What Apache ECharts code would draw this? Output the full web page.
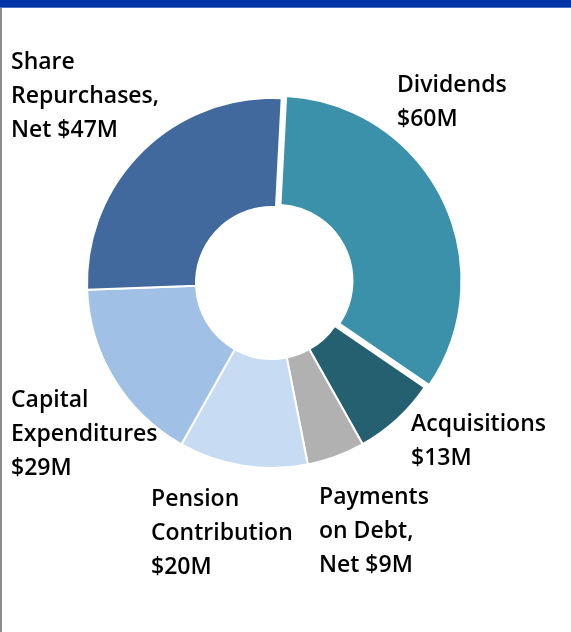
<!DOCTYPE html>
<html>
<head>
<meta charset="utf-8">
<script src="https://cdn.jsdelivr.net/npm/echarts@6/dist/echarts.min.js"></script>
<style>
  html, body { margin: 0; padding: 0; background: #fff; }
  #topbar { position: absolute; left: 0; top: 0; width: 571px; height: 7px; background: #0033a8; border-bottom: 1px solid #4a6fc4; }
  #leftline { position: absolute; left: 0; top: 8px; width: 2px; height: 624px; background: #8c8c8c; }
  #chart-container { position: absolute; left: 0; top: 0; width: 571px; height: 632px; }
</style>
</head>
<body>
<div id="chart-container"></div>
<div id="topbar"></div>
<div id="leftline"></div>
<script>
var nameData = ["Dividends", "Acquisitions", "Payments\non Debt,\nNet", "Pension\nContribution", "Capital\nExpenditures", "Share\nRepurchases,\nNet"];
var valueData = [60, 13, 9, 20, 29, 47];
var colorData = ["#3b91a9", "#256071", "#b1b1b1", "#c7dbf2", "#a0c0e6", "#41699e"];
var valueSep = ["\n", "\n", " ", "\n", "\n", " "];

// label anchor points (top-left of each text block)
var labelPos = [[397, 68], [411, 407], [319, 480], [151, 482], [11, 383], [11, 45]];

var dom = document.getElementById("chart-container");
var myChart = echarts.init(dom, null, { renderer: "canvas" });

var total = valueData.reduce(function (a, b) { return a + b; }, 0);

// main ring, dividends slice hidden here (drawn exploded in the 2nd series)
var seriesData = valueData.map(function (v, i) {
  return {
    name: nameData[i],
    value: v,
    itemStyle: i === 0 ? { color: "rgba(0,0,0,0)", borderWidth: 0 } : { color: colorData[i] },
    label: { formatter: nameData[i] + valueSep[i] + "$" + v + "M" }
  };
});

var explodeData = [
  { name: nameData[0], value: valueData[0], selected: true, itemStyle: { color: colorData[0] } },
  { name: "rest", value: total - valueData[0], itemStyle: { color: "rgba(0,0,0,0)", borderWidth: 0 } }
];

var option = {
  animation: false,
  series: [{
    type: "pie",
    center: [272, 283],
    radius: [76, 185],
    startAngle: 87,
    clockwise: true,
    selectedMode: false,
    silent: true,
    itemStyle: { borderColor: "#fff", borderWidth: 2 },
    label: {
      show: true,
      position: "outside",
      color: "#000",
      fontFamily: "Open Sans",
      fontWeight: 600,
      fontSize: 23,
      lineHeight: 34,
      align: "left",
      overflow: "none"
    },
    labelLine: { show: false },
    labelLayout: function (params) {
      var p = labelPos[params.dataIndex];
      return { x: p[0], y: p[1], align: "left", verticalAlign: "top" };
    },
    data: seriesData
  }, {
    type: "pie",
    center: [272, 283],
    radius: [76, 185],
    startAngle: 87,
    clockwise: true,
    selectedMode: "single",
    selectedOffset: 5,
    silent: true,
    itemStyle: { borderColor: "#fff", borderWidth: 2 },
    label: { show: false },
    labelLine: { show: false },
    data: explodeData
  }]
};

myChart.setOption(option);
</script>
</body>
</html>
